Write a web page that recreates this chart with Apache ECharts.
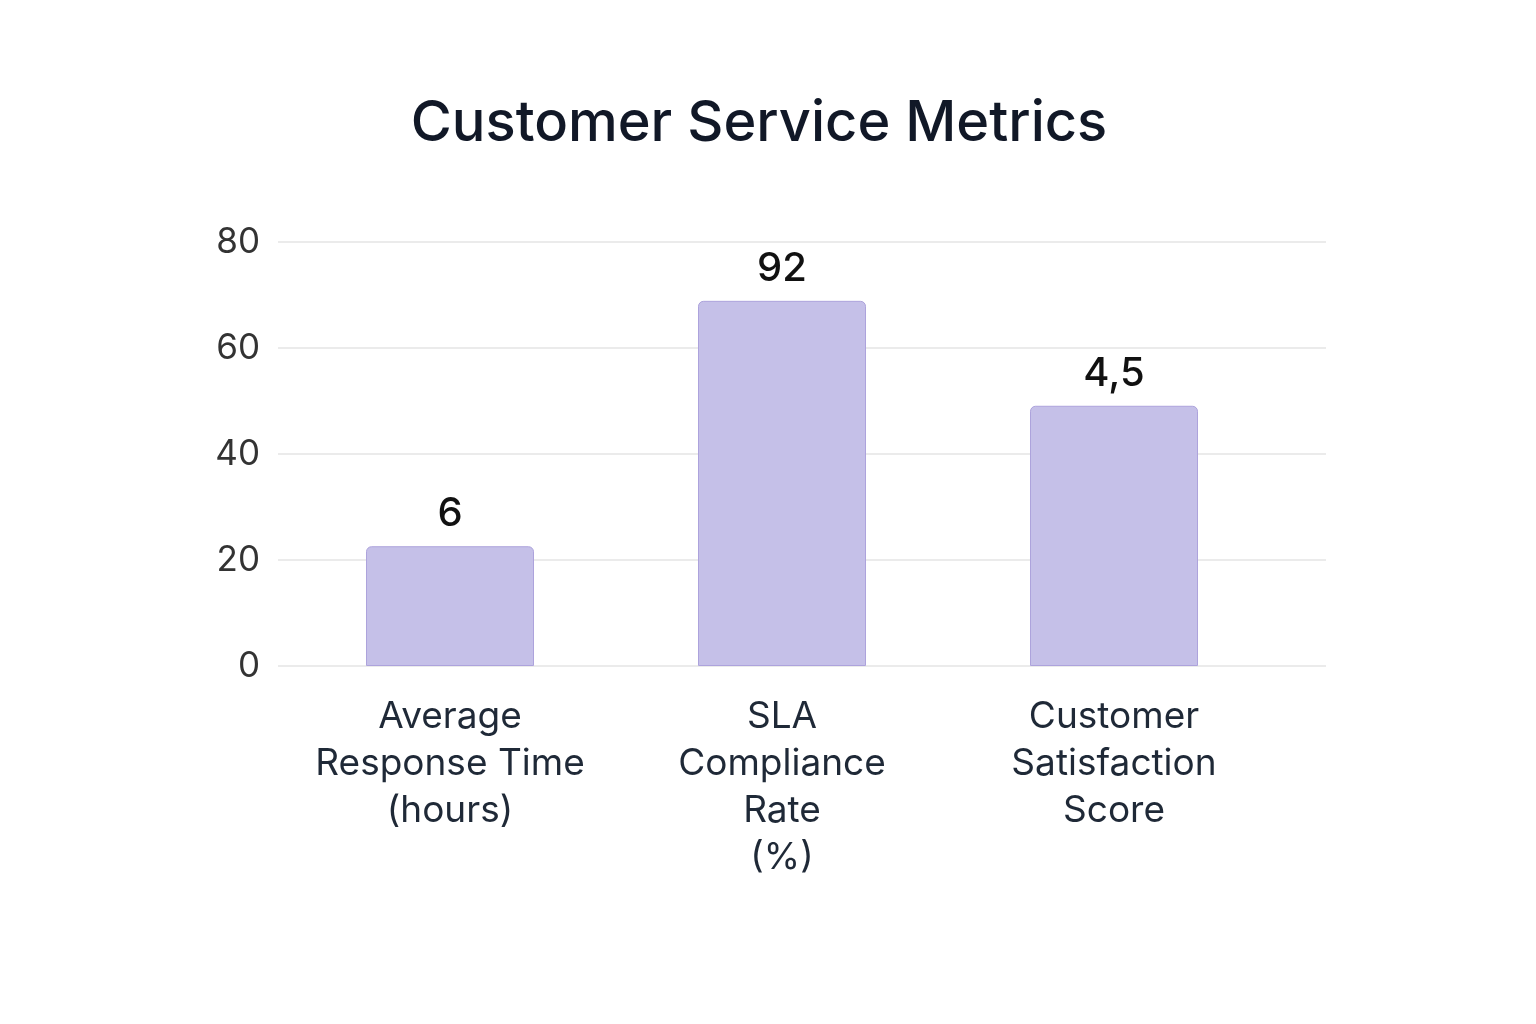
<!DOCTYPE html>
<html>
<head>
<meta charset="utf-8">
<script src="https://cdn.jsdelivr.net/npm/echarts@6/dist/echarts.min.js"></script>
<style>
html,body{margin:0;padding:0;background:#fff;}
#chart{width:1536px;height:1024px;}
</style>
</head>
<body>
<div id="chart"></div>
<script>
// categories and values
var categories = ['Average\nResponse Time\n(hours)', 'SLA\nCompliance\nRate\n(%)', 'Customer\nSatisfaction\nScore'];
var barHeights = [22.6, 68.9, 49.1];   // bar tops measured against the y axis
var valueLabels = ['6', '92', '4,5'];  // text printed above each bar
var yTicks = [0, 20, 40, 60, 80];

var chart = echarts.init(document.getElementById('chart'));
var font = 'Inter, "Noto Sans", sans-serif';

var option = {
	backgroundColor: '#ffffff',
	animation: false,
	title: {
		text: 'Customer Service Metrics',
		left: 754,
		top: 91,
		textAlign: 'center',
		textStyle: {fontFamily: font, fontSize: 56, fontWeight: 500, color: '#111827'}
	},
	grid: [
		// background grid: y axis labels and split lines
		{left: 278, right: 210, top: 242, bottom: 358},
		// bars
		{left: 284, width: 996, top: 242, bottom: 358}
	],
	xAxis: [
		{gridIndex: 0, type: 'category', data: categories, show: false},
		{
			gridIndex: 1,
			type: 'category',
			data: categories,
			axisLine: {show: false},
			axisTick: {show: false},
			axisLabel: {
				interval: 0,
				hideOverlap: false,
				margin: 27,
				fontFamily: font,
				fontSize: 37,
				lineHeight: 47,
				color: '#1f2937',
				align: 'center',
				verticalAlign: 'top'
			}
		}
	],
	yAxis: [
		{
			gridIndex: 0,
			type: 'value',
			min: yTicks[0],
			max: yTicks[yTicks.length - 1],
			interval: 20,
			axisLine: {show: false},
			axisTick: {show: false},
			axisLabel: {margin: 18, fontFamily: font, fontSize: 35, color: '#333333', padding: [7, 0, 0, 0]},
			splitLine: {lineStyle: {color: '#e5e5e5', width: 1.5}}
		},
		{
			gridIndex: 1,
			type: 'value',
			min: yTicks[0],
			max: yTicks[yTicks.length - 1],
			show: false,
			splitLine: {show: false}
		}
	],
	series: [{
		type: 'bar',
		xAxisIndex: 1,
		yAxisIndex: 1,
		data: barHeights,
		barWidth: 168,
		itemStyle: {
			color: '#c5c0e8',
			borderColor: '#ada3dc',
			borderWidth: 1,
			borderRadius: [5, 5, 0, 0]
		},
		label: {
			show: true,
			position: 'top',
			distance: 12,
			fontFamily: font,
			fontSize: 40,
			fontWeight: 500,
			color: '#111111',
			formatter: function(p){
				return valueLabels[p.dataIndex];
			}
		}
	}]
};
chart.setOption(option);
</script>
</body>
</html>
